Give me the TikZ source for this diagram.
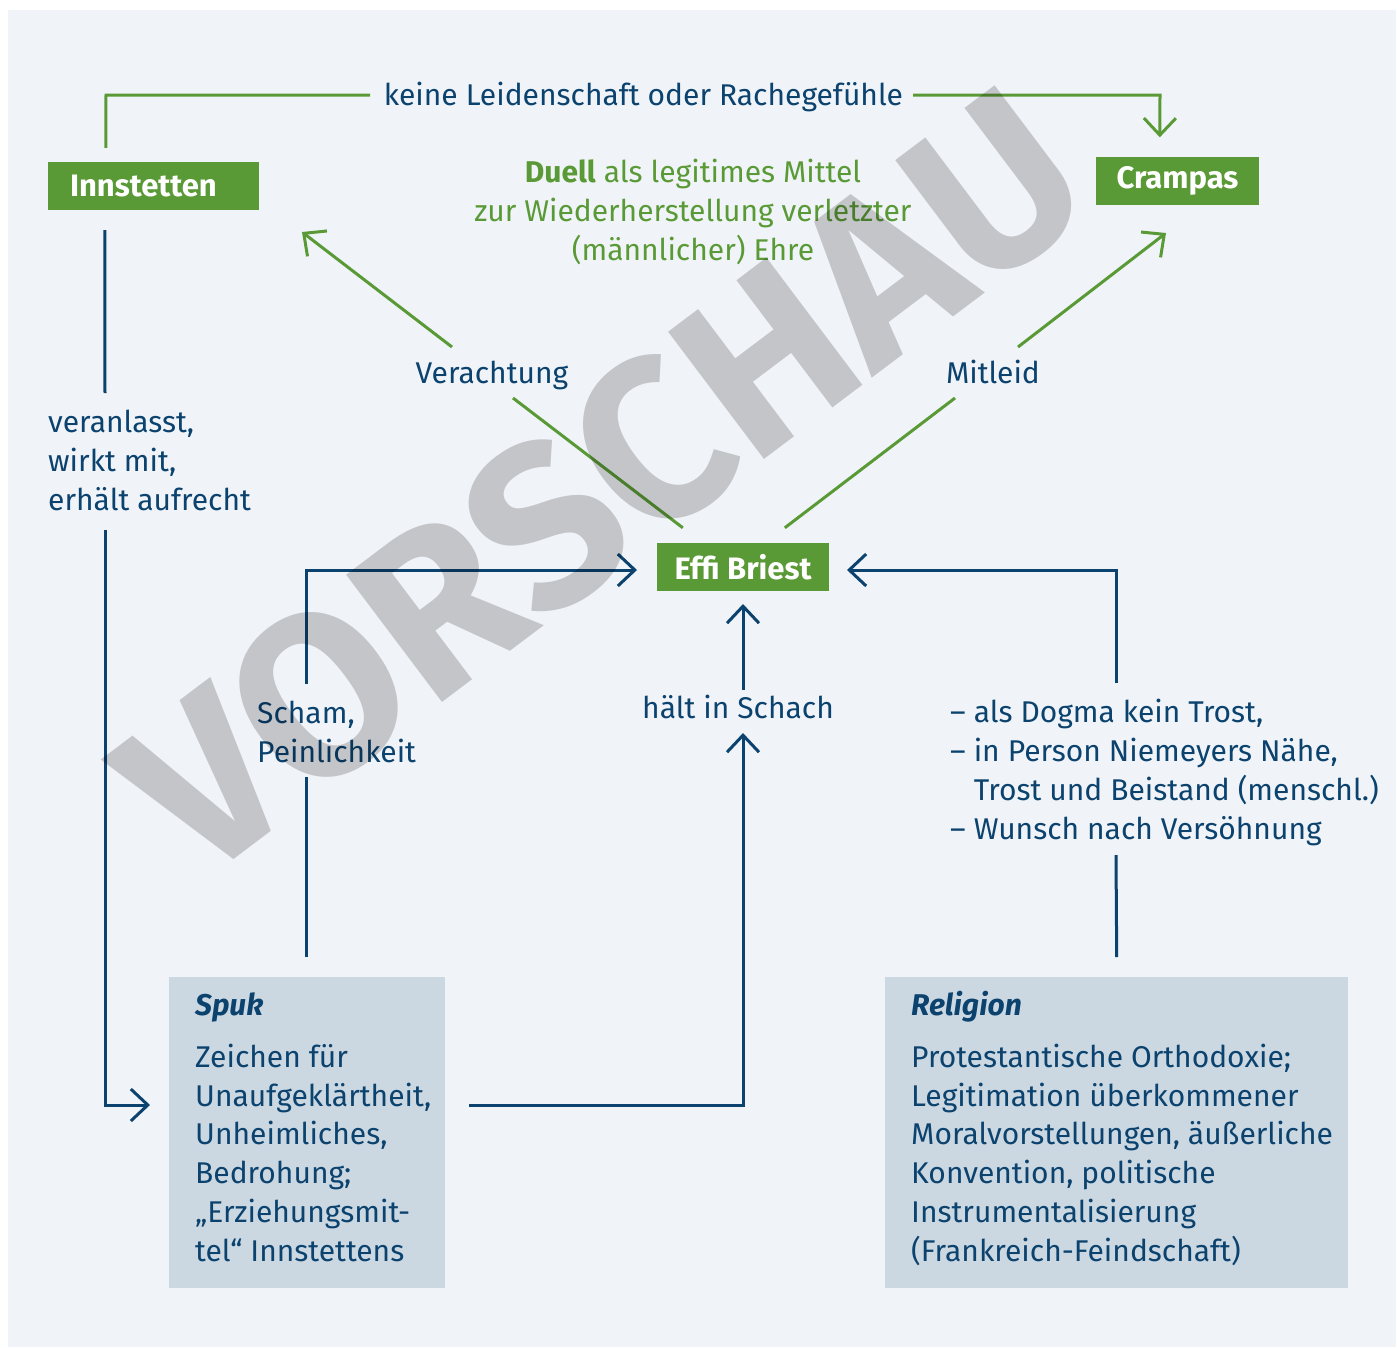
\documentclass[tikz,border=0pt]{standalone}
\usepackage{fontspec}
\setmainfont{Fira Sans}
\usetikzlibrary{arrows.meta}
\definecolor{bg}{HTML}{F0F4F8}
\definecolor{grn}{HTML}{5A9A36}
\definecolor{dblue}{HTML}{0B426E}
\definecolor{boxc}{HTML}{CBD8E2}
\definecolor{wm}{HTML}{D0CECF}
\begin{document}
\begin{tikzpicture}[x=1pt,y=-1pt,
  txt/.style={font=\fontsize{30}{38.7}\selectfont, text=dblue, inner sep=0pt, align=left},
  gtxt/.style={txt, text=grn, align=center},
  gbox/.style={fill=grn, text=white, font=\fontsize{31}{36}\selectfont\bfseries, inner sep=0pt, minimum height=48pt},
  ibox/.style={fill=boxc, inner sep=0pt, anchor=north west},
  gl/.style={draw=grn, line width=3pt},
  bl/.style={draw=dblue, line width=3pt},
  tip/.style={-{Straight Barb[length=17pt,width=32pt]}}
]
\useasboundingbox (0,0) rectangle (1397,1347);
\fill[white] (0,0) rectangle (1397,1347);
\fill[bg] (8,10) rectangle (1396,1347);

% boxes
\node[gbox, minimum width=211pt, text width=167pt, align=left, inner xsep=22pt] (inn) at (153.5,186) {Innstetten};
\node[gbox, minimum width=163pt] (cra) at (1177.5,180.5) {Crampas};
\node[gbox, minimum width=172pt] (effi) at (743,567) {Effi Briest};
\node[ibox, minimum width=276pt, minimum height=311pt] (spuk) at (169,977) {};
\node[ibox, minimum width=463pt, minimum height=311pt] (rel) at (885,977) {};

% labels (anchor base = baseline of last line)
\node[txt, anchor=base] (keine) at (643.5,105) {keine Leidenschaft oder Rachegefühle};
\node[gtxt, anchor=base] (duell) at (693,260) {\textbf{Duell} als legitimes Mittel\\zur Wiederherstellung verletzter\\(männlicher) Ehre};
\node[txt, anchor=base] (ver) at (492,383) {Verachtung};
\node[txt, anchor=base] (mit) at (993,383) {Mitleid};
\node[txt, anchor=base west] (veran) at (48,510) {veranlasst,\\wirkt mit,\\erhält aufrecht};
\node[txt, anchor=base west] (scham) at (257,762) {Scham,\\Peinlichkeit};
\node[txt, anchor=base] (halt) at (738,718) {hält in Schach};
\node[txt, anchor=base west] (dogma) at (950,839) {– als Dogma kein Trost,\\– in Person Niemeyers Nähe,\\\phantom{– }Trost und Beistand (menschl.)\\– Wunsch nach Versöhnung};
\node[txt, anchor=base west] (spuktxt) at (195,1261) {\textbf{\textit{Spuk}}\\[13pt]Zeichen für\\Unaufgeklärtheit,\\Unheimliches,\\Bedrohung;\\„Erziehungsmit-\\tel“ Innstettens};
\node[txt, anchor=base west] (reltxt) at (911,1261) {\textbf{\textit{Religion}}\\[13pt]Protestantische Orthodoxie;\\Legitimation überkommener\\Moralvorstellungen, äußerliche\\Konvention, politische\\Instrumentalisierung\\(Frankreich-Feindschaft)};

% green connectors
\draw[gl] ([shift={(58,-14)}]inn.north west) -- (106,95) -- (370,95);
\draw[gl, tip] (913,95) -- (1160,95) -- ([shift={(64,-19)}]cra.north west);
\draw[gl] ([shift={(26,-15)}]effi.north west) -- (513,398);
\draw[gl, tip] (452,347) -- (302,232);
\draw[gl] ([shift={(128,-15)}]effi.north west) -- (955,398);
\draw[gl, tip] (1018,347) -- (1166,233);

% blue connectors
\draw[bl] ([shift={(57,20)}]inn.south west) -- (105,393);
\draw[bl, tip] (105,530) -- (105,1105) -- (150,1105);
\draw[bl] ([shift={(137,-20)}]spuk.north west) -- (306,777);
\draw[bl, tip] (306,684) -- (306,570) -- (637,570);
\draw[bl, tip] (469,1105) -- (743,1105) -- (743,733);
\draw[bl, tip] (743,690) -- (743,604);
\draw[bl] ([shift={(0,-20)}]rel.north) -- (1116,855);
\draw[bl, tip] (1116,683) -- (1116,570) -- (847,570);

% watermark (multiplied over the drawing)
\begin{scope}[blend mode=multiply]
\node[rotate=37, font=\fontsize{230}{230}\selectfont\bfseries, text=wm, inner sep=0pt] (wmk) at (602,482) {VORSCHAU};
\end{scope}
\end{tikzpicture}
\end{document}
